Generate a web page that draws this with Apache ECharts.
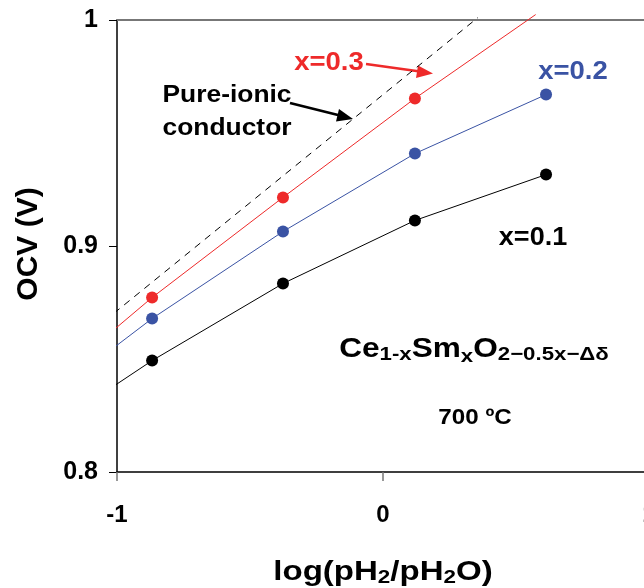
<!DOCTYPE html>
<html><head><meta charset="utf-8">
<script src="https://cdn.jsdelivr.net/npm/echarts@6/dist/echarts.min.js"></script>
<style>html,body{margin:0;padding:0;background:#fff}#c{width:644px;height:588px}</style>
</head><body><div id="c"></div>
<script>
// Measured data points (log(pH2/pH2O), OCV in V)
const xPts = [-0.868, -0.376, 0.120, 0.613];
const ocvX01 = [0.8493, 0.8834, 0.9113, 0.9316];
const ocvX02 = [0.8679, 0.9064, 0.9409, 0.9670];
const ocvX03 = [0.8772, 0.9215, 0.9653];
// Trend lines (polyline vertices)
const lineX01X = [-1.021, -0.868, -0.376, 0.120, 0.613];
const lineX01Y = [0.8373, 0.8493, 0.8834, 0.9113, 0.9316];
const lineX02X = [-1.021, -0.868, -0.376, 0.120, 0.613];
const lineX02Y = [0.8542, 0.8679, 0.9064, 0.9409, 0.9670];
const lineX03X = [-1.021, -0.868, -0.376, 0.120, 0.574];
const lineX03Y = [0.8620, 0.8772, 0.9215, 0.9653, 1.0024];
const ionicX = [-1.011, 0.357];
const ionicY = [0.8703, 1.0011];
const xTicks = [-1, 0, 1];
const yTicks = [0.8, 0.9, 1];

const RED = '#ee2a2a', BLUE = '#3a53a4', BLK = '#000';
const FF = '"Liberation Sans", Arial, sans-serif';
const zip = (a, b) => a.map((v, i) => [v, b[i]]);

const chart = echarts.init(document.getElementById('c'), null, {renderer: 'canvas'});
const lineS = (name, xs, ys, color, type) => ({
  name, type: 'line', data: zip(xs, ys), symbol: 'none', clip: false, z: 2,
  lineStyle: {color, width: 1, type: type || 'solid'}, silent: true
});
const dotS = (name, xs, ys, color) => ({
  name, type: 'scatter', data: zip(xs, ys), symbol: 'circle', symbolSize: 12, z: 3,
  itemStyle: {color, opacity: 1}
});
const txt = (text, x, y, size, color, sx, extra) => Object.assign({
  type: 'text', x, y, scaleX: sx || 1, z: 10,
  style: {x: 0, y: 0, text, fill: color, font: 'bold ' + size + 'px ' + FF, align: 'center', verticalAlign: 'middle'}
}, extra || {});

chart.setOption({
  animation: false,
  backgroundColor: '#fff',
  grid: {left: 117, right: -5, top: 20, bottom: 116, outerBoundsMode: 'none', containLabel: false},
  xAxis: [{
    type: 'value', min: xTicks[0], max: xTicks[2], interval: 1,
    axisLine: {onZero: false, lineStyle: {color: BLK, width: 1.5}},
    axisTick: {inside: false, length: 9, lineStyle: {color: '#777', width: 1.5}},
    splitLine: {show: false},
    axisLabel: {margin: 31, fontSize: 24, fontWeight: 'bold', color: BLK, fontFamily: FF}
  }, {
    type: 'value', position: 'top', min: -1, max: 1,
    axisLine: {show: true, lineStyle: {color: '#777', width: 2}},
    axisTick: {show: false}, axisLabel: {show: false}, splitLine: {show: false}
  }],
  yAxis: {
    type: 'value', min: yTicks[0], max: yTicks[2], interval: 0.1,
    axisLine: {show: true, onZero: false, lineStyle: {color: BLK, width: 1.5}},
    axisTick: {inside: false, length: 8, lineStyle: {color: BLK, width: 1}},
    splitLine: {show: false},
    axisLabel: {margin: 19, fontSize: 25, fontWeight: 'bold', color: BLK, fontFamily: FF}
  },
  series: [
    lineS('Pure-ionic conductor', ionicX, ionicY, BLK, [7, 6]),
    lineS('fit x=0.1', lineX01X, lineX01Y, BLK),
    lineS('fit x=0.2', lineX02X, lineX02Y, BLUE),
    lineS('fit x=0.3', lineX03X, lineX03Y, RED),
    dotS('x=0.1', xPts, ocvX01, BLK),
    dotS('x=0.2', xPts, ocvX02, BLUE),
    dotS('x=0.3', xPts.slice(0, 3), ocvX03, RED)
  ],
  graphic: [
    // axis titles
    {type: 'text', x: 383, y: 572, scaleX: 1.18, style: {
      x: 0, y: 0, align: 'center', verticalAlign: 'middle',
      text: '{a|log(pH}{s|2}{a|/pH}{s|2}{a|O)}',
      rich: {
        a: {font: 'bold 28px ' + FF, fill: BLK},
        s: {font: 'bold 19px ' + FF, fill: BLK, padding: [12, 0, 0, 0]}
      }}},
    txt('OCV (V)', 29, 244, 30, BLK, 1, {rotation: Math.PI / 2}),
    // annotations
    txt('x=0.3', 329, 63, 25, RED, 1.1),
    {type: 'line', shape: {x1: 366, y1: 64, x2: 420, y2: 71.5}, style: {stroke: RED, lineWidth: 2.5}},
    {type: 'polygon', shape: {points: [[433, 73.5], [418, 65.5], [416, 78]]}, style: {fill: RED}},
    txt('Pure-ionic', 227, 95, 24, BLK, 1.1),
    txt('conductor', 227, 128, 24, BLK, 1.1),
    {type: 'line', shape: {x1: 290, y1: 103, x2: 340, y2: 115.5}, style: {stroke: BLK, lineWidth: 2.5}},
    {type: 'polygon', shape: {points: [[353, 119], [339, 109], [336, 121.5]]}, style: {fill: BLK}},
    txt('x=0.2', 573, 72, 25, BLUE, 1.1),
    txt('x=0.1', 533, 238, 25, BLK, 1.08),
    {type: 'text', x: 474, y: 350, scaleX: 1.17, style: {
      x: 0, y: 0, align: 'center', verticalAlign: 'middle',
      text: '{a|Ce}{s|1-x}{a|Sm}{t|x}{a|O}{s|2\u22120.5x\u2212\u0394\u03b4}',
      rich: {
        a: {font: 'bold 27px ' + FF, fill: BLK},
        s: {font: 'bold 19px ' + FF, fill: BLK, padding: [10, 0, 0, 0]},
        t: {font: 'bold 19px ' + FF, fill: BLK, padding: [14, 0, 0, 0]}
      }}},
    txt('700 \u00baC', 475, 418, 22, BLK, 1.1)
  ]
});
</script></body></html>
